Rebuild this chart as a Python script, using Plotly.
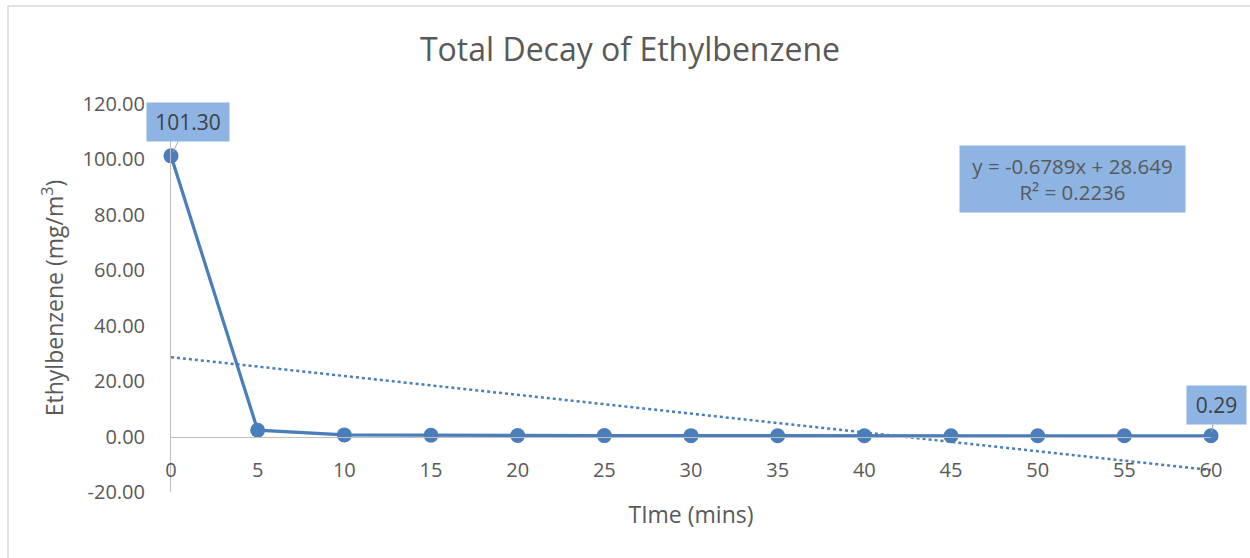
import plotly.graph_objects as go

# ---- data ----
time_mins = [0, 5, 10, 15, 20, 25, 30, 35, 40, 45, 50, 55, 60]
ethylbenzene = [101.30, 2.30, 0.60, 0.45, 0.40, 0.35, 0.33, 0.32, 0.31, 0.30, 0.30, 0.29, 0.29]
trend_slope = -0.6789
trend_intercept = 28.649
trend_r2 = 0.2236
y_ticks = [-20, 0, 20, 40, 60, 80, 100, 120]
x_ticks = [0, 5, 10, 15, 20, 25, 30, 35, 40, 45, 50, 55, 60]

W, H = 1250, 558
L, R, T, B = 171, 39, 104, 66
pw, ph = W - L - R, H - T - B

def px_x(p):
    return (p - L) / pw

def px_y(p):
    return (H - B - p) / ph

FONT = "Open Sans"
GREY = "#595959"
BLUE = "#4A7EBB"
BOX = "#8DB4E2"

fig = go.Figure()

trend_x = [time_mins[0], time_mins[-1]]
trend_y = [trend_slope * x + trend_intercept for x in trend_x]
fig.add_trace(go.Scatter(x=trend_x, y=trend_y, mode="lines",
                         line=dict(color=BLUE, width=2.5, dash="dot"),
                         hoverinfo="skip", showlegend=False, cliponaxis=False))
fig.add_trace(go.Scatter(x=time_mins, y=ethylbenzene, mode="lines+markers",
                         line=dict(color=BLUE, width=3.2),
                         marker=dict(color=BLUE, size=15),
                         showlegend=False, cliponaxis=False))

annotations = []
# data labels for first and last point
for idx, (ax, ay, w) in [(0, (17, -34, 80)), (len(time_mins) - 1, (5, -31, 57))]:
    annotations.append(dict(
        x=time_mins[idx], y=ethylbenzene[idx], xref="x", yref="y",
        text=f"{ethylbenzene[idx]:.2f}", showarrow=True, arrowhead=0,
        arrowwidth=1, arrowcolor="#A6A6A6", ax=ax, ay=ay, standoff=4,
        bgcolor=BOX, width=w, height=36, borderpad=1,
        font=dict(family=FONT, size=21, color="#404040")))
# trendline equation
annotations.append(dict(
    x=px_x(1072), y=px_y(179), xref="paper", yref="paper",
    xanchor="center", yanchor="middle", showarrow=False,
    text=f"y = {trend_slope}x + {trend_intercept}<br>R² = {trend_r2}",
    bgcolor=BOX, width=223, height=64, align="center",
    font=dict(family=FONT, size=20.5, color=GREY)))

shapes = [
    dict(type="line", xref="paper", yref="paper", x0=px_x(8), x1=px_x(1260),
         y0=px_y(6), y1=px_y(6), line=dict(color="#D9D9D9", width=1.5)),
    dict(type="line", xref="paper", yref="paper", x0=px_x(8), x1=px_x(8),
         y0=px_y(6), y1=px_y(570), line=dict(color="#D9D9D9", width=1.5)),
]

fig.update_layout(
    width=W, height=H,
    margin=dict(l=L, r=R, t=T, b=B, autoexpand=False),
    paper_bgcolor="white", plot_bgcolor="white",
    font=dict(family=FONT, color=GREY),
    title=dict(text="Total Decay of Ethylbenzene", x=630 / W,
               xanchor="center", y=1 - 50 / H, yanchor="middle", yref="container",
               font=dict(family=FONT, size=32, color=GREY)),
    xaxis=dict(range=[0, 60], tickvals=x_ticks, ticktext=[str(v) for v in x_ticks],
               showgrid=False, zeroline=False, showline=True, linecolor="#BFBFBF",
               linewidth=1, anchor="free", position=20 / 140,
               ticks="", ticklabelstandoff=15,
               tickfont=dict(family=FONT, size=20, color=GREY),
               title=dict(text="TIme (mins)", standoff=25,
                          font=dict(family=FONT, size=23, color=GREY))),
    yaxis=dict(range=[-20, 120], tickvals=y_ticks, ticktext=[f"{v:.2f}" for v in y_ticks],
               showgrid=False, zeroline=False, showline=True, linecolor="#BFBFBF",
               linewidth=1, ticks="", ticklabelstandoff=21,
               tickfont=dict(family=FONT, size=20, color=GREY),
               title=dict(text="Ethylbenzene (mg/m<sup>3</sup>)", standoff=12,
                          font=dict(family=FONT, size=23, color=GREY))),
    annotations=annotations, shapes=shapes,
)

fig.write_html("out.html", config={"displayModeBar": False},
               post_script="document.body.style.margin='0';")
